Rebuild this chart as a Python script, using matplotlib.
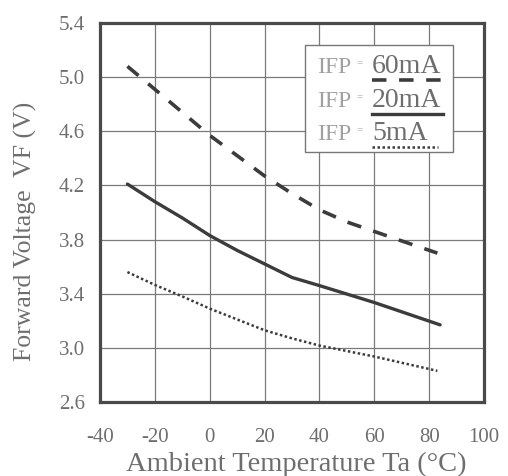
import matplotlib
matplotlib.use("Agg")
import matplotlib.pyplot as plt
from matplotlib.lines import Line2D
from matplotlib.patches import Rectangle

# datos
temp_60 = [-30, -20, -10, 0, 10, 20, 30, 40, 50, 60, 70, 83]
vf_60 = [5.08, 4.91, 4.74, 4.57, 4.42, 4.27, 4.14, 4.02, 3.93, 3.86, 3.79, 3.70]

temp_20 = [-30, -20, -10, 0, 10, 20, 25, 30, 40, 60, 84]
vf_20 = [4.21, 4.08, 3.96, 3.83, 3.72, 3.62, 3.57, 3.52, 3.46, 3.335, 3.17]

temp_5 = [-30, -20, -10, 0, 10, 20, 30, 40, 60, 83]
vf_5 = [3.56, 3.465, 3.38, 3.29, 3.21, 3.13, 3.07, 3.017, 2.936, 2.83]

x_ticks = [-40, -20, 0, 20, 40, 60, 80, 100]
y_ticks = [2.6, 3.0, 3.4, 3.8, 4.2, 4.6, 5.0, 5.4]
labels = ["60mA", "20mA", "5mA"]

gris_txt = "#6e6e6e"
gris_lin = "#3c3c3c"

plt.rcParams["font.family"] = ["Liberation Serif", "DejaVu Serif"]

fig = plt.figure(figsize=(5.08, 4.76), dpi=100)
ax = fig.add_axes([100 / 508, 1 - 402 / 476, 384 / 508, 379 / 476])

ax.plot(temp_60, vf_60, color=gris_lin, lw=2.6, linestyle=(0, (4, 3.5)))
ax.plot(temp_20, vf_20, color=gris_lin, lw=2.4, solid_capstyle="round")
ax.plot(temp_5, vf_5, color=gris_lin, lw=1.8, linestyle=(0, (1, 1)))

ax.set_xlim(-40, 100)
ax.set_ylim(2.6, 5.4)
ax.set_xticks(x_ticks)
ax.set_yticks(y_ticks)
ax.set_xticklabels([str(t) for t in x_ticks])
ax.set_yticklabels(["%.1f" % t for t in y_ticks])
ax.grid(True, color="#7a7a7a", lw=0.9)
ax.set_axisbelow(True)
ax.tick_params(length=0, labelsize=15, labelcolor=gris_txt)
ax.tick_params(axis="x", pad=19)
ax.tick_params(axis="y", pad=11)
for s in ax.spines.values():
    s.set_linewidth(2.3)
    s.set_color("#4a4a4a")

ax.set_xlabel("Ambient Temperature Ta (°C)", fontsize=20.5, color=gris_txt, va="center")
ax.xaxis.set_label_coords(0.51, -0.166)
ax.set_ylabel("Forward Voltage  VF (V)", fontsize=18.5, color=gris_txt, va="center")
ax.yaxis.set_label_coords(-0.195, 0.451)

# leyenda hecha a mano (texto subrayado con el estilo de linea)
caja = Rectangle((0.534, 0.660), 0.385, 0.282, transform=ax.transAxes,
                 facecolor="white", edgecolor="#777777", lw=1.0, zorder=3)
ax.add_patch(caja)
estilos = [dict(lw=2.6, linestyle=(0, (4, 3.5))),
           dict(lw=2.4, linestyle="-"),
           dict(lw=1.8, linestyle=(0, (1, 1)))]
filas = [0.868, 0.779, 0.691]
fin = [0.893, 0.893, 0.880]
for lab, est, yf, xf in zip(labels, estilos, filas, fin):
    ax.text(0.566, yf, "IFP", transform=ax.transAxes, fontsize=17,
            color="#a0a0a0", va="baseline", zorder=4)
    ax.text(0.667, yf + 0.02, "=", transform=ax.transAxes, fontsize=8,
            color="#a0a0a0", va="baseline", zorder=4)
    ax.text(0.708, yf, lab, transform=ax.transAxes, fontsize=20,
            color=gris_txt, va="baseline", zorder=4)
    ax.add_line(Line2D([0.708, xf], [yf - 0.018, yf - 0.018],
                       transform=ax.transAxes, color=gris_lin, zorder=4, **est))

fig.savefig("out.png", dpi=100)
